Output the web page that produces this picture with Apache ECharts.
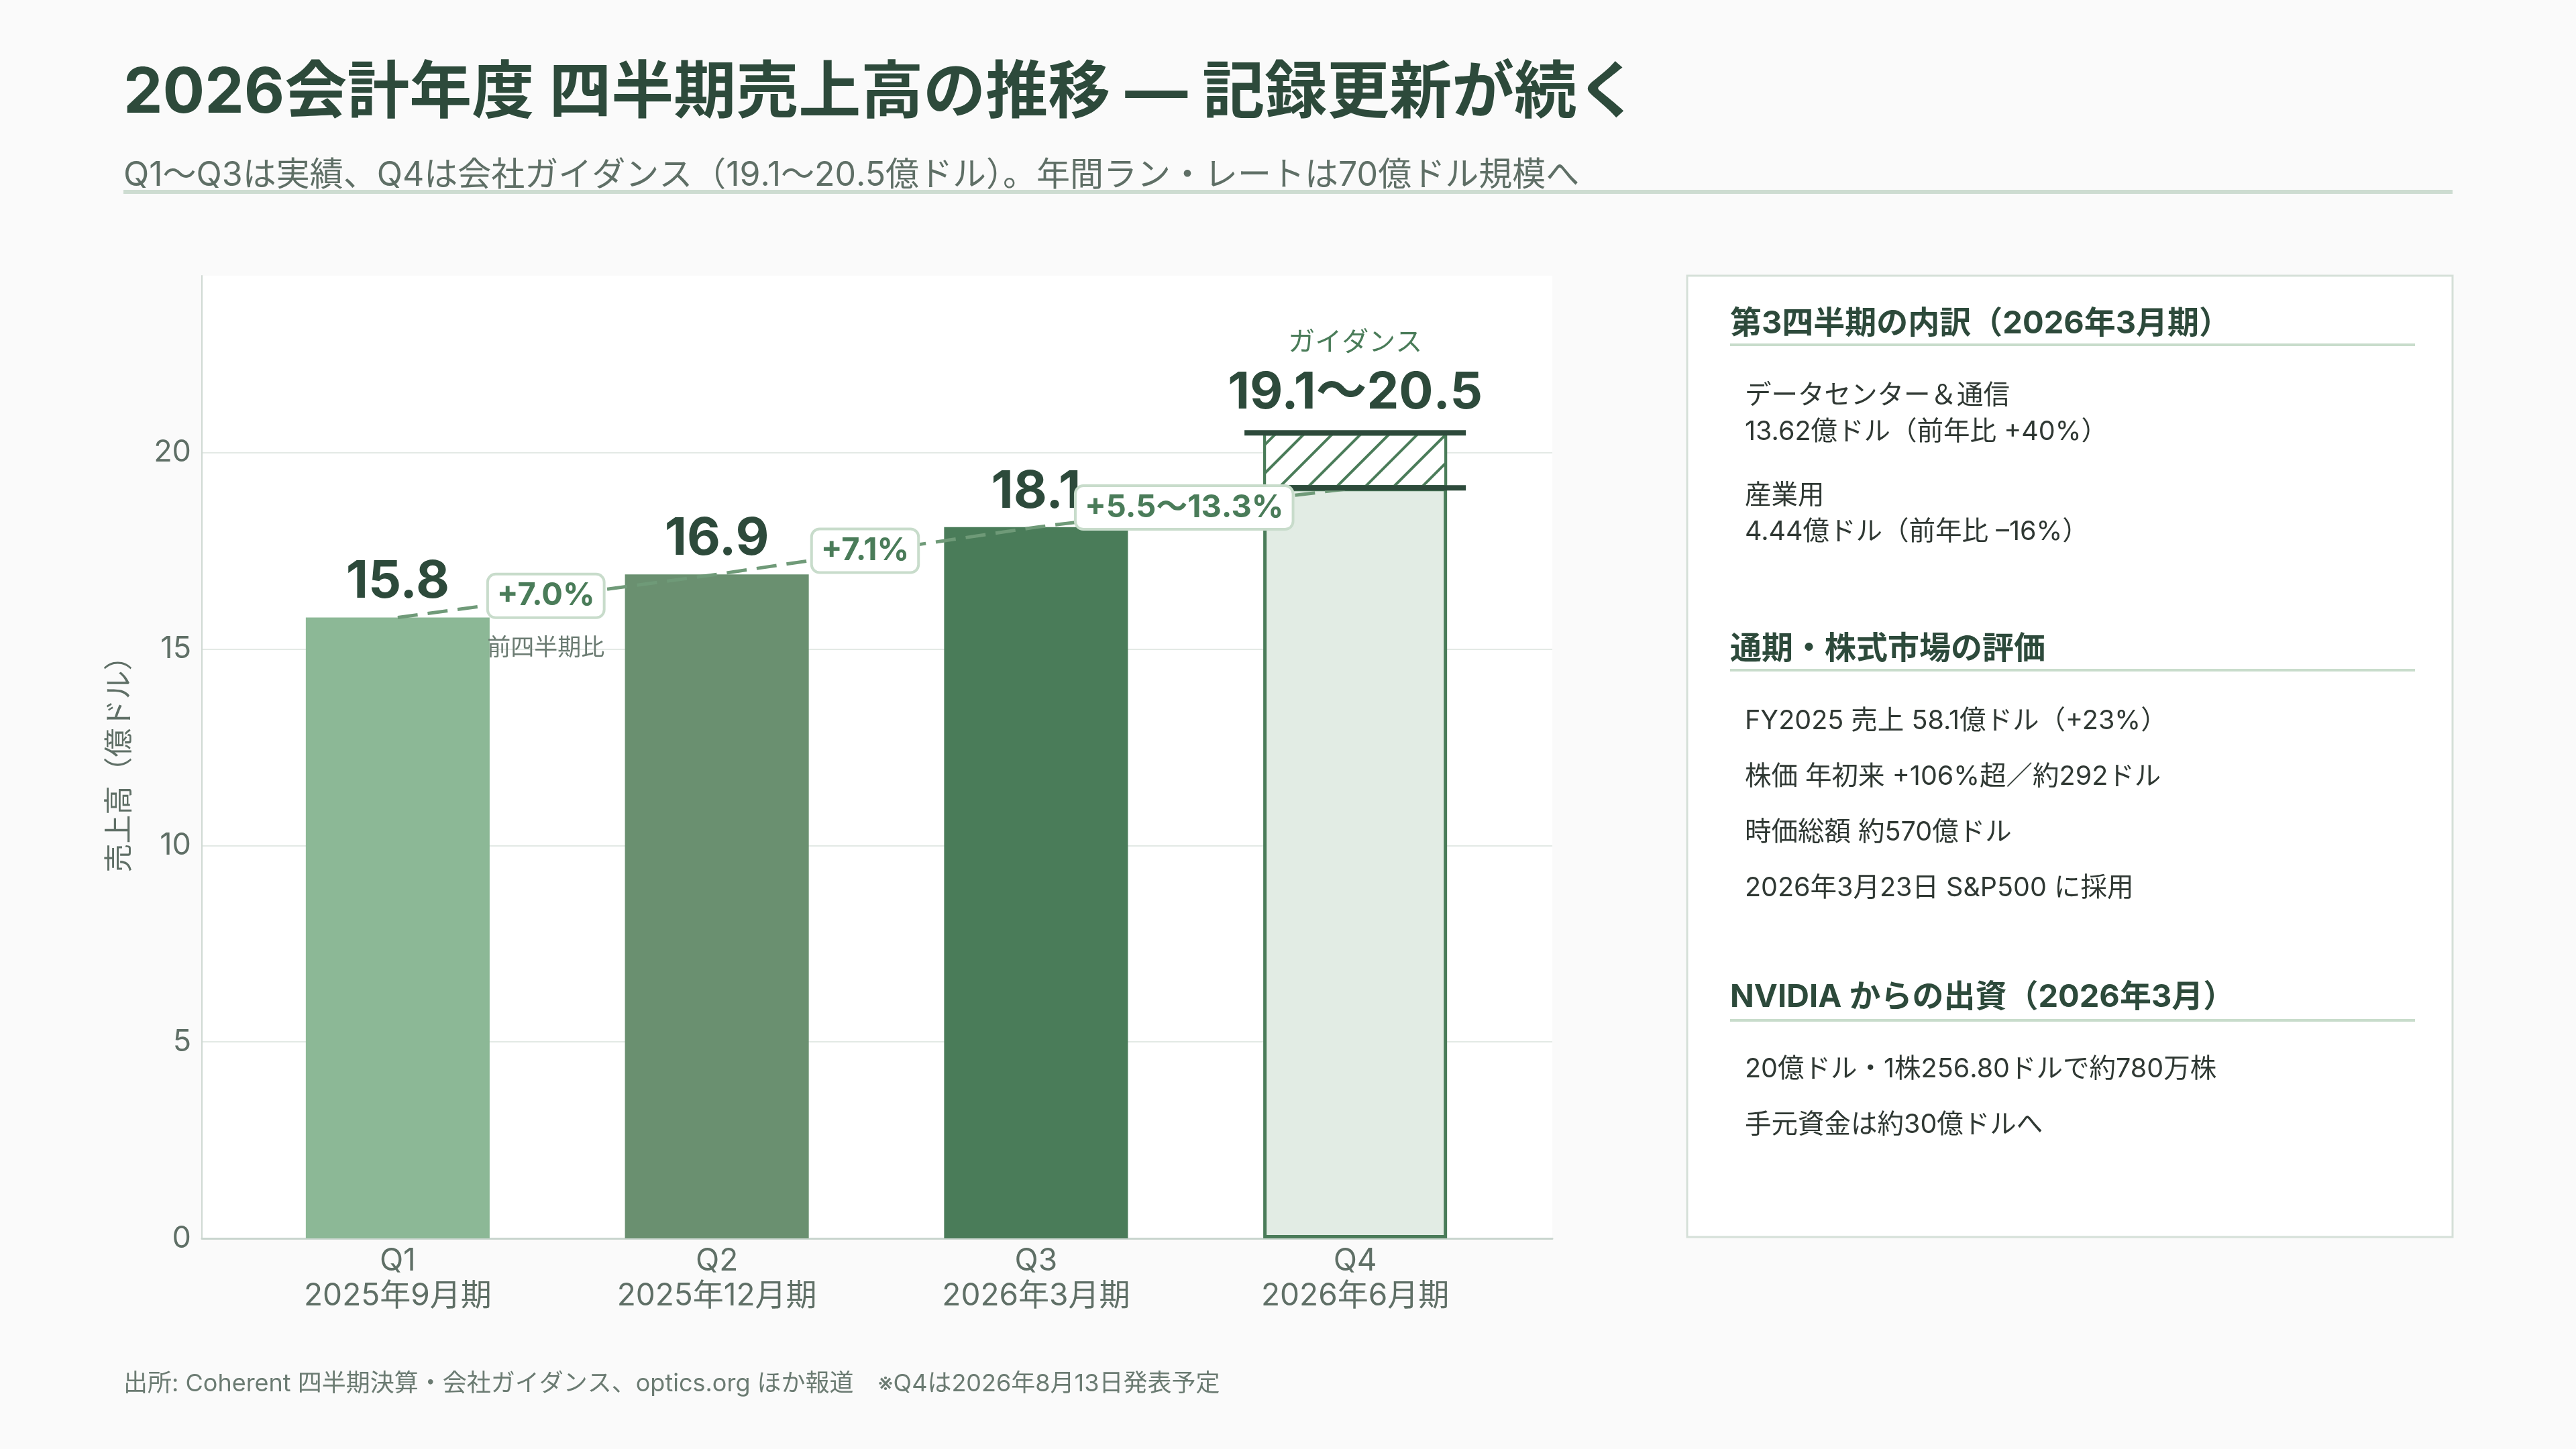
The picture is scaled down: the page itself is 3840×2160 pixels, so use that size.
<!DOCTYPE html>
<html lang="ja">
<head>
<meta charset="utf-8">
<title>2026会計年度 四半期売上高の推移</title>
<script src="https://cdn.jsdelivr.net/npm/echarts@6/dist/echarts.min.js"></script>
<style>
  html, body { margin: 0; padding: 0; background: #fafafa; }
  #chart { width: 3840px; height: 2160px; }
</style>
</head>
<body>
<div id="chart"></div>
<script>
// --- data (億ドル) ---
var quarters = ['Q1', 'Q2', 'Q3', 'Q4'];
var periods = ['2025年9月期', '2025年12月期', '2026年3月期', '2026年6月期'];
var actualSales = [15.8, 16.9, 18.1];
var guidanceLow = 19.1;
var guidanceHigh = 20.5;
var qoqLabels = ['+7.0%', '+7.1%', '+5.5～13.3%'];
var yMax = 24.5;
var yStep = 5;

// --- side panel text ---
var panelHeads = ['第3四半期の内訳（2026年3月期）', '通期・株式市場の評価', 'NVIDIA からの出資（2026年3月）'];
var panelLines1 = ['データセンター＆通信', '13.62億ドル（前年比 +40%）', '産業用', '4.44億ドル（前年比 –16%）'];
var panelLines2 = ['FY2025 売上 58.1億ドル（+23%）', '株価 年初来 +106%超／約292ドル', '時価総額 約570億ドル', '2026年3月23日 S&P500 に採用'];
var panelLines3 = ['20億ドル・1株256.80ドルで約780万株', '手元資金は約30億ドルへ'];

var titleText = '2026会計年度 四半期売上高の推移 ― 記録更新が続く';
var subtitleText = 'Q1～Q3は実績、Q4は会社ガイダンス（19.1～20.5億ドル）。年間ラン・レートは70億ドル規模へ';
var sourceText = '出所: Coherent 四半期決算・会社ガイダンス、optics.org ほか報道　※Q4は2026年8月13日発表予定';

// --- style ---
var FONT = "Inter, 'Noto Sans CJK JP', sans-serif";
var DARK = '#2d4a3b';
var GREEN = '#4a7c59';
var GREY = '#5f6f66';
var barColors = ['#8cb896', '#6a9070', '#4a7c59'];
var BAR_RATIO = 0.576;

var trend = actualSales.concat([guidanceLow]);

var baseData = actualSales.map(function (v, i) {
    return { value: v, itemStyle: { color: barColors[i] } };
});
baseData.push({
    value: guidanceLow,
    itemStyle: { color: '#e2ece4', borderColor: GREEN, borderWidth: 5 },
    label: { show: false }
});

var rangeData = actualSales.map(function () { return '-'; });
rangeData.push(+(guidanceHigh - guidanceLow).toFixed(2));

function txt(x, y, text, font, color) {
    return {
        type: 'text', x: x, y: y, silent: true,
        style: { text: text, font: font, fill: color, align: 'left', verticalAlign: 'middle', textAlign: 'left', textVerticalAlign: 'middle' }
    };
}
function hline(x1, x2, y, w, color) {
    return { type: 'line', silent: true, shape: { x1: x1, y1: y, x2: x2, y2: y }, style: { stroke: color, lineWidth: w } };
}

var PX = 2515, PY = 411, PW = 1141, PH = 1433;
var headX = 2579, itemX = 2601, ruleEnd = 3600;
var graphics = [
    txt(184, 140, titleText, 'bold 93px ' + FONT, DARK),
    txt(184, 262, subtitleText, '50px ' + FONT, GREY),
    hline(184, 3656, 286, 6, '#cddcd1'),
    { type: 'rect', silent: true, shape: { x: PX, y: PY, width: PW, height: PH }, style: { fill: '#ffffff', stroke: '#d5e0d8', lineWidth: 3 } },
    txt(184, 2063, sourceText, '36px ' + FONT, '#6b7b72')
];
var headY = [483, 968, 1487];
var ruleY = [514, 999, 1521];
var lineY = [[590, 644, 739, 793], [1075, 1158, 1241, 1324], [1594, 1677]];
var lineSets = [panelLines1, panelLines2, panelLines3];
panelHeads.forEach(function (h, k) {
    graphics.push(txt(headX, headY[k], h, 'bold 47px ' + FONT, DARK));
    graphics.push(hline(headX, ruleEnd, ruleY[k], 4, '#c8dccb'));
    lineSets[k].forEach(function (t, j) {
        graphics.push(txt(itemX, lineY[k][j], t, '39.5px ' + FONT, '#2f3833'));
    });
});

var myChart = echarts.init(document.getElementById('chart'));

var option = {
    backgroundColor: '#fafafa',
    animation: false,
    textStyle: { fontFamily: FONT },
    graphic: graphics,
    grid: [
        { left: 301, right: 1526, top: 411, bottom: 314, show: true, backgroundColor: '#ffffff', borderWidth: 0 },
        { left: 355, right: 1582, top: 411, bottom: 314 }
    ],
    xAxis: [
        {
            type: 'value', gridIndex: 0, min: 0, max: 1,
            axisLine: { show: true, lineStyle: { color: '#c9d5ce', width: 3 } },
            axisTick: { show: false }, axisLabel: { show: false }, splitLine: { show: false }
        },
        {
            type: 'category', gridIndex: 1, data: quarters,
            axisLine: { show: false }, axisTick: { show: false },
            axisLabel: {
                margin: 8, color: GREY, fontSize: 46, lineHeight: 52, fontFamily: FONT,
                formatter: function (v, i) { return v + '\n' + periods[i]; }
            }
        }
    ],
    yAxis: [
        {
            type: 'value', gridIndex: 0, min: 0, max: yMax, interval: yStep,
            name: '売上高（億ドル）', nameLocation: 'middle', nameGap: 100, nameRotate: 90,
            nameTextStyle: { color: GREY, fontSize: 43, fontFamily: FONT },
            axisLine: { show: true, lineStyle: { color: '#cfd9d3', width: 2 } },
            axisTick: { show: false },
            axisLabel: {
                margin: 16, color: GREY, fontSize: 45, fontFamily: FONT,
                formatter: function (v) { return v % yStep === 0 ? String(v) : ''; }
            },
            splitLine: { show: true, showMinLine: false, showMaxLine: false, lineStyle: { color: '#e3e9e5', width: 2 } }
        },
        { type: 'value', gridIndex: 1, min: 0, max: yMax, interval: yStep, show: false }
    ],
    series: [
        {
            name: '売上高', type: 'bar', xAxisIndex: 1, yAxisIndex: 1, stack: 'q',
            barWidth: (BAR_RATIO * 100) + '%', z: 2,
            data: baseData,
            label: {
                show: true, position: 'top', distance: 14,
                color: DARK, fontSize: 77, fontWeight: 'bold', fontFamily: FONT
            }
        },
        {
            name: 'ガイダンス', type: 'bar', xAxisIndex: 1, yAxisIndex: 1, stack: 'q',
            barWidth: (BAR_RATIO * 100) + '%', z: 2,
            data: rangeData,
            itemStyle: {
                color: '#ffffff', borderColor: GREEN, borderWidth: 4,
                decal: { symbol: 'rect', symbolSize: 1, color: GREEN, dashArrayX: [1, 0], dashArrayY: [4, 26], rotation: -Math.PI / 4 }
            },
            label: {
                show: true, position: 'top', distance: 16,
                formatter: function () { return '{g|ガイダンス}\n{v|' + guidanceLow + '～' + guidanceHigh + '}'; },
                rich: {
                    g: { fontSize: 40, color: GREEN, lineHeight: 64, fontFamily: FONT },
                    v: { fontSize: 76, color: DARK, fontWeight: 'bold', lineHeight: 86, fontFamily: FONT }
                }
            }
        },
        {
            name: '推移', type: 'line', xAxisIndex: 1, yAxisIndex: 1, z: 3,
            data: trend, symbol: 'none', silent: true,
            lineStyle: { color: '#6f9a78', width: 5, type: [30, 15] }
        },
        {
            name: 'ガイダンス幅', type: 'custom', xAxisIndex: 1, yAxisIndex: 1, z: 4, silent: true,
            data: [[quarters[3], guidanceLow], [quarters[3], guidanceHigh]],
            renderItem: function (params, api) {
                var p = api.coord([api.value(0), api.value(1)]);
                var half = api.size([1, 0])[0] * BAR_RATIO / 2 + 28;
                return {
                    type: 'line',
                    shape: { x1: p[0] - half, y1: p[1], x2: p[0] + half, y2: p[1] },
                    style: { stroke: DARK, lineWidth: 8 }
                };
            }
        },
        {
            name: '前四半期比', type: 'custom', xAxisIndex: 1, yAxisIndex: 1, z: 5, silent: true,
            data: qoqLabels.map(function (l, i) { return [i, trend[i], trend[i + 1]]; }),
            renderItem: function (params, api) {
                var i = api.value(0);
                var a = api.coord([i, api.value(1)]);
                var b = api.coord([i + 1, api.value(2)]);
                var cx = (a[0] + b[0]) / 2 - 17;
                var cy = (a[1] + b[1]) / 2;
                var children = [{
                    type: 'text', x: cx, y: cy,
                    style: {
                        text: qoqLabels[params.dataIndex], font: 'bold 47px ' + FONT, fill: GREEN,
                        align: 'center', verticalAlign: 'middle',
                        backgroundColor: '#ffffff', borderColor: '#c8dccb', borderWidth: 4, borderRadius: 10,
                        padding: [8, 12, 6, 12]
                    }
                }];
                if (params.dataIndex === 0) {
                    children.push({
                        type: 'text', x: cx, y: cy + 78,
                        style: { text: '前四半期比', font: '35px ' + FONT, fill: '#6b7b72', align: 'center', verticalAlign: 'middle' }
                    });
                }
                return { type: 'group', children: children };
            }
        }
    ]
};

myChart.setOption(option);

window.addEventListener('resize', function () {
    myChart.resize();
});
</script>
</body>
</html>
